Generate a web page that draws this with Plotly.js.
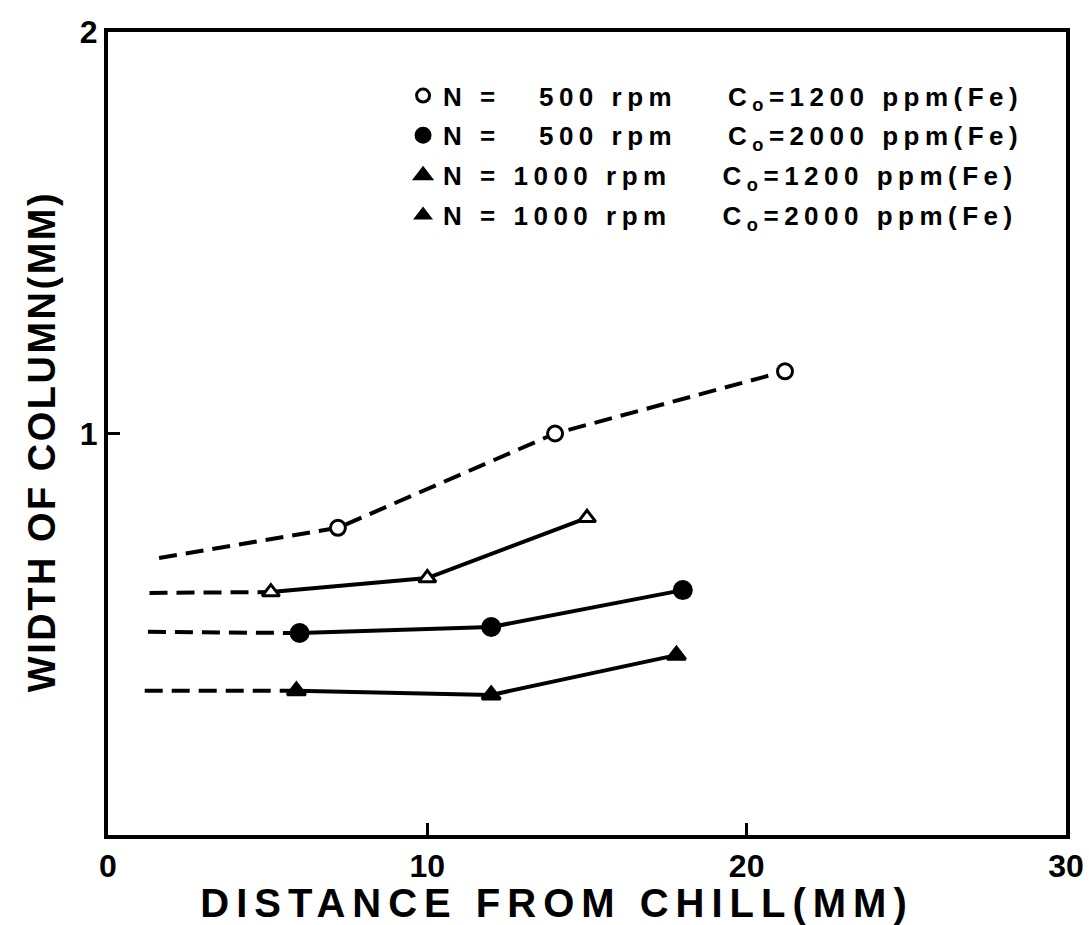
<!DOCTYPE html>
<html>
<head>
<meta charset="utf-8">
<script src="https://cdn.plot.ly/plotly-3.0.1.min.js"></script>
<style>
  html, body { margin: 0; padding: 0; background: #fff; }
  #chart { width: 1089px; height: 925px; }
  .xtitle { letter-spacing: 7px; }
  .ytitle { letter-spacing: 2.5px; }
  .legendtext { letter-spacing: 5.5px; }
</style>
</head>
<body>
<div id="chart"></div>
<script>
// ---- Data ----
// distance from chill (mm) and width of column (mm)
const distOpenCircle = [7.2, 14.0, 21.2];
const widthOpenCircle = [0.765, 1.0, 1.155];
const distOpenTriangle = [5.1, 10.0, 15.0];
const widthOpenTriangle = [0.605, 0.64, 0.79];
const distFilledCircle = [6.0, 12.0, 18.0];
const widthFilledCircle = [0.503, 0.518, 0.61];
const distFilledTriangle = [5.9, 12.0, 17.8];
const widthFilledTriangle = [0.359, 0.349, 0.448];

// start points of the dashed (extrapolated) lead-in lines, per series
// order: open circle, open triangle, filled circle, filled triangle
const leadDist = [1.6, 1.3, 1.25, 1.15];
const leadWidth = [0.69, 0.603, 0.506, 0.359];

// legend text
const legendSpeed = ['N =\u00a0\u00a0\u00a0500 rpm', 'N =\u00a0\u00a0\u00a0500 rpm', 'N = 1000 rpm', 'N = 1000 rpm'];
const legendConc = ['C<sub>o</sub>=1200 ppm(Fe)', 'C<sub>o</sub>=2000 ppm(Fe)', 'C<sub>o</sub>=1200 ppm(Fe)', 'C<sub>o</sub>=2000 ppm(Fe)'];

const xTickVals = [0, 10, 20, 30];
const xTickText = ['0', '10', '20', '30'];
const yTickVals = [1, 2];
const yTickText = ['1', '2'];

const xTitle = 'DISTANCE FROM CHILL(MM)';
const yTitle = 'WIDTH OF COLUMN(MM)';

// ---- Styling ----
const black = '#000';
const dashPat = '18px,9px';
const lineW = 4;
const fontFam = 'Liberation Sans, Arial, sans-serif';

const series = [
  {x: distOpenCircle, y: widthOpenCircle, symbol: 'circle', fill: '#fff', size: 15, allDashed: true},
  {x: distOpenTriangle, y: widthOpenTriangle, symbol: 'triangle-up', fill: '#fff', size: 15, allDashed: false},
  {x: distFilledCircle, y: widthFilledCircle, symbol: 'circle', fill: black, size: 17, allDashed: false},
  {x: distFilledTriangle, y: widthFilledTriangle, symbol: 'triangle-up', fill: black, size: 16, allDashed: false}
];

const traces = [];
series.forEach((s, i) => {
  // dashed lead-in (whole line for the open-circle series)
  const dx = s.allDashed ? [leadDist[i]].concat(s.x) : [leadDist[i], s.x[0]];
  const dy = s.allDashed ? [leadWidth[i]].concat(s.y) : [leadWidth[i], s.y[0]];
  traces.push({
    type: 'scatter', mode: 'lines', x: dx, y: dy, showlegend: false, hoverinfo: 'skip',
    line: {color: black, width: lineW, dash: dashPat}
  });
  // solid segment with markers
  traces.push({
    type: 'scatter', mode: s.allDashed ? 'markers' : 'lines+markers', x: s.x, y: s.y, showlegend: false,
    line: {color: black, width: lineW},
    marker: {symbol: s.symbol, size: s.size, color: s.fill, line: {color: black, width: 3}}
  });
});

// legend entries (symbols as printed in the reference legend)
const legendSymbols = ['circle', 'circle', 'triangle-up', 'triangle-up'];
const legendFill = ['#fff', black, black, black];
const legendSizes = [13, 14, 14, 12];
for (let i = 0; i < 4; i++) {
  traces.push({
    type: 'scatter', mode: 'markers', x: [null], y: [null],
    name: legendSpeed[i] + '\u00a0\u00a0\u00a0\u00a0' + legendConc[i],
    legendgroup: 'g' + i,
    marker: {symbol: legendSymbols[i], size: legendSizes[i], color: legendFill[i], line: {color: black, width: 3}}
  });
}

const tickFont = {family: fontFam, size: 32, color: black, weight: 700};

const layout = {
  width: 1089, height: 925,
  margin: {l: 108, r: 23, t: 32, b: 90},
  paper_bgcolor: '#fff', plot_bgcolor: '#fff',
  showlegend: true,
  legend: {
    x: 0.308, y: 0.95, xanchor: 'left', yanchor: 'top',
    bgcolor: 'rgba(0,0,0,0)', borderwidth: 0,
    tracegroupgap: 3,
    font: {family: fontFam, size: 26, color: black, weight: 700}
  },
  xaxis: {
    range: [0, 30], tickvals: xTickVals, ticktext: xTickText,
    ticks: 'inside', ticklen: 12, tickwidth: 3, tickcolor: black,
    showline: true, linewidth: 4, linecolor: black, mirror: true,
    showgrid: false, zeroline: false, tickfont: tickFont,
    title: {text: xTitle, standoff: 10, font: {family: fontFam, size: 40, color: black, weight: 700}}
  },
  yaxis: {
    range: [0, 2], tickvals: yTickVals, ticktext: yTickText,
    ticks: 'inside', ticklen: 12, tickwidth: 3, tickcolor: black,
    showline: true, linewidth: 4, linecolor: black, mirror: true,
    showgrid: false, zeroline: false, tickfont: tickFont,
    title: {text: yTitle, standoff: 14, font: {family: fontFam, size: 38, color: black, weight: 700}}
  }
};

Plotly.newPlot('chart', traces, layout, {staticPlot: true, displayModeBar: false}).then(function (gd) {
  // the printed x title sits a little left of the plot centre
  const xt = gd.querySelector('.xtitle');
  if (xt) xt.setAttribute('x', parseFloat(xt.getAttribute('x')) - 30);
  // the printed y title sits a little below the plot centre
  const yt = gd.querySelector('.ytitle');
  if (yt) yt.setAttribute('x', parseFloat(yt.getAttribute('x')) - 8);
});
</script>
</body>
</html>
